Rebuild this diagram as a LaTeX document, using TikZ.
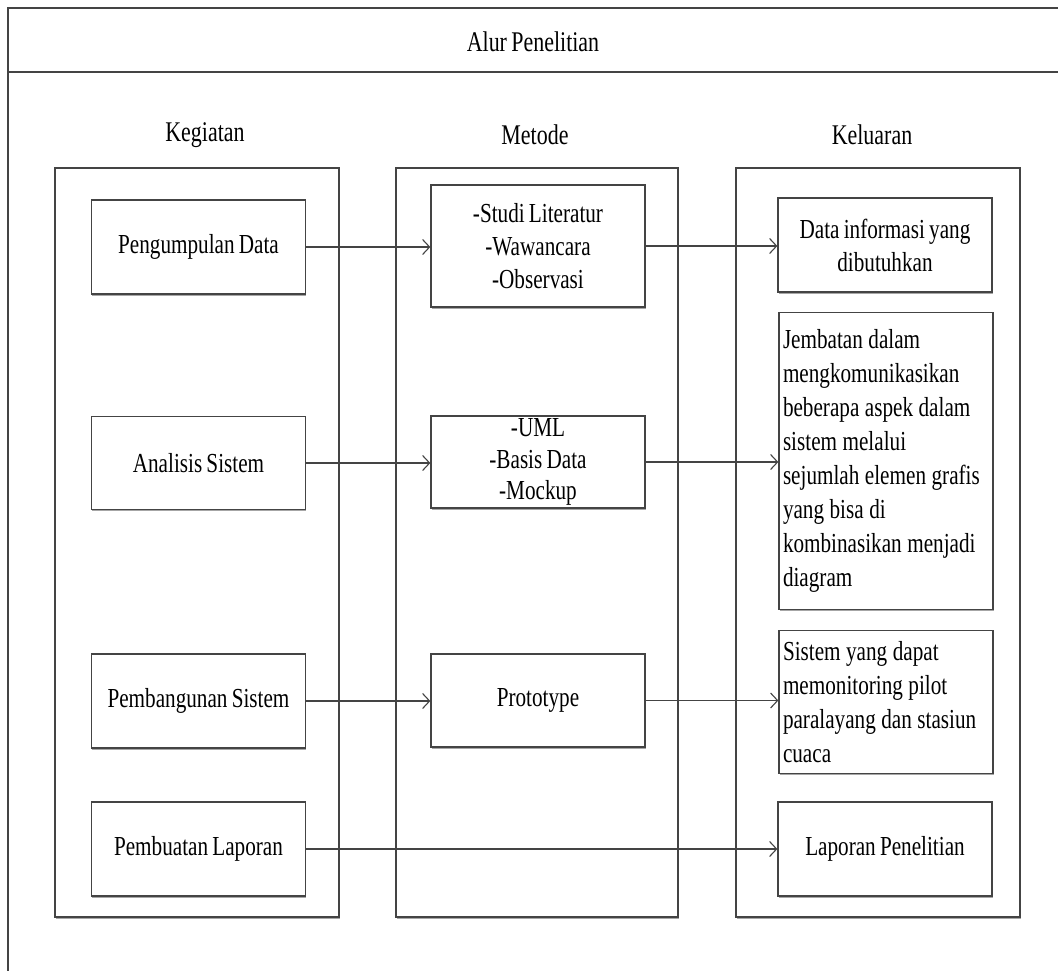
\documentclass[tikz,border=0pt]{standalone}
\usepackage{fontspec}
\setmainfont{Liberation Serif}[FakeStretch=0.77,WordSpace=0.8]
\usetikzlibrary{arrows.meta,shadows}
\definecolor{ln}{HTML}{444444}
\newcommand\myrag{\spaceskip=5.5pt\relax\rightskip=0pt plus 1fil\relax}
\tikzset{
  px/.style={x=1pt,y=-1pt},
  shd/.style={drop shadow={shadow xshift=0.8pt,shadow yshift=-1.6pt,opacity=0.35,fill=black}},
  col/.style={draw=ln,fill=white,shd,line width=1.3pt,rectangle,minimum width=284pt,minimum height=749pt,inner sep=0pt},
  box/.style={draw=ln,fill=white,shd,line width=1.3pt,rectangle,minimum width=214pt,inner sep=0pt,align=center,
    font=\fontsize{27.5}{33}\selectfont},
  lbox/.style={box,align=left,text width=206pt,anchor=north,font=\fontsize{27.5}{34}\selectfont},
  lbl/.style={font=\fontsize{28.5}{30}\selectfont,inner sep=0pt},
  arr/.style={draw=ln,line width=1.2pt,-{Straight Barb[length=7pt,width=15pt,line width=1.1pt]}}
}
\begin{document}
\begin{tikzpicture}[px]
\useasboundingbox (0,0) rectangle (1058,970);
\fill[white] (0,0) rectangle (1058,970);
% outer frame
\draw[ln,line width=1.6pt] (8,975) -- (8,8) -- (1065,8);
\draw[ln,line width=1.6pt] (8,72) -- (1065,72);
\node[lbl] (title) at (533,42) {Alur Penelitian};
% column headers
\node[lbl] (hk) at (205,135) {Kegiatan};
\node[lbl] (hm) at (535,135) {Metode};
\node[lbl] (hr) at (872,135) {Keluaran};
% columns
\node[col] (ck) at (197,542.5) {};
\node[col,minimum width=282pt] (cm) at (537,542.5) {};
\node[col] (cr) at (878,542.5) {};
% left nodes
\node[box,minimum height=94pt] (k1) at (198.5,247) {Pengumpulan Data};
\node[box,minimum height=93pt] (k2) at (198.5,463) {Analisis Sistem};
\node[box,minimum height=94pt] (k3) at (198.5,701) {Pembangunan Sistem};
\node[box,minimum height=94pt] (k4) at (198.5,849) {Pembuatan Laporan};
% middle nodes
\node[box,minimum height=122pt] (m1) at (538,246) {-Studi Literatur\\-Wawancara\\-Observasi};
\node[box,minimum height=92pt,font=\fontsize{27.5}{31.5}\selectfont] (m2) at (538,462) {-UML\\-Basis Data\\-Mockup};
\node[box,minimum height=93pt] (m3) at (538,700.5) {Prototype};
% right nodes
\node[box,minimum height=94pt] (r1) at (885,245) {Data informasi yang\\dibutuhkan};
\node[lbox,minimum height=297pt] (r2) at (886,312) {\myrag\rule{0pt}{15pt}Jembatan dalam\\mengkomunikasikan\\beberapa aspek dalam\\sistem melalui\\sejumlah elemen grafis\\yang bisa di\\kombinasikan menjadi\\diagram\\[14pt]};
\node[lbox,minimum height=143pt] (r3) at (886,630) {\myrag\rule{0pt}{15pt}Sistem yang dapat\\memonitoring pilot\\paralayang dan stasiun\\cuaca\\[4pt]};
\node[box,minimum height=94pt] (r4) at (885,849) {Laporan Penelitian};
% arrows
\draw[arr] (k1.east) -- (k1.east -| m1.west);
\draw[arr] (k2.east) -- (k2.east -| m2.west);
\draw[arr] (k3.east) -- (k3.east -| m3.west);
\draw[arr] (k4.east) -- (k4.east -| r4.west);
\draw[arr] (m1.east) -- (m1.east -| r1.west);
\draw[arr] (m2.east) -- (m2.east -| r2.west);
\draw[arr] (m3.east) -- (m3.east -| r3.west);
\end{tikzpicture}
\end{document}
